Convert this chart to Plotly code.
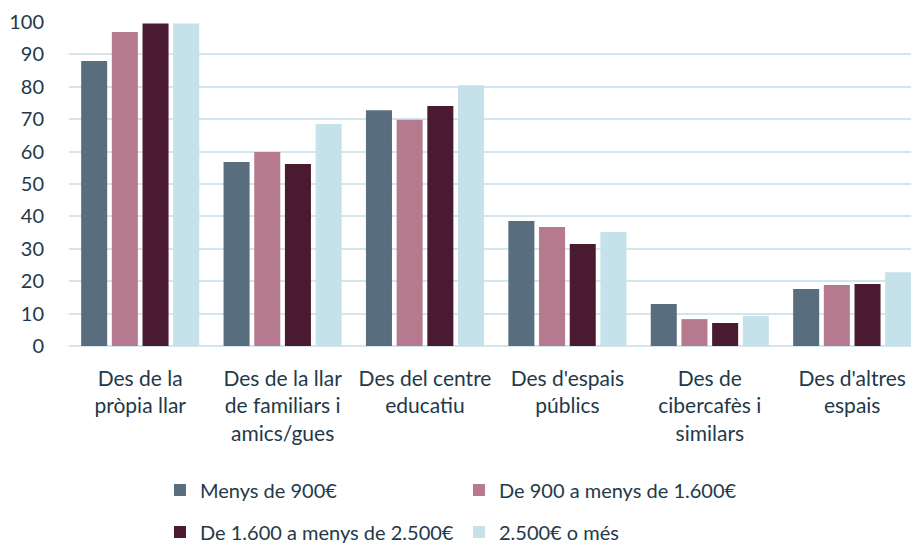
import plotly.graph_objects as go

categories = [
    "Des de la<br>pròpia llar",
    "Des de la llar<br>de familiars i<br>amics/gues",
    "Des del centre<br>educatiu",
    "Des d'espais<br>públics",
    "Des de<br>cibercafès i<br>similars",
    "Des d'altres<br>espais",
]

series_names = [
    "Menys de 900€",
    "De 900 a menys de 1.600€",
    "De 1.600 a menys de 2.500€",
    "2.500€ o més",
]

menys_900 = [88.0, 56.8, 72.8, 38.6, 13.0, 17.6]
de_900_1600 = [96.9, 59.9, 69.8, 36.7, 8.3, 18.8]
de_1600_2500 = [99.5, 56.2, 74.1, 31.5, 7.1, 19.1]
mes_2500 = [99.5, 68.5, 80.5, 35.2, 9.3, 22.8]

colors = ["#586d7d", "#b67a8e", "#4a1a30", "#c5e2ea"]
font_color = "#23394a"
grid_color = "#d3e6f0"

fig = go.Figure()
all_values = [menys_900, de_900_1600, de_1600_2500, mes_2500]
legends = ["legend", "legend", "legend2", "legend2"]
for name, vals, col, lg in zip(series_names, all_values, colors, legends):
    fig.add_trace(go.Bar(x=categories, y=vals, name=name, marker_color=col,
                         marker_line_width=0, legend=lg))

legend_style = dict(
    orientation="h", xanchor="left", yanchor="middle",
    xref="container", yref="container",
    font=dict(size=20, color=font_color), entrywidth=254,
    bgcolor="rgba(0,0,0,0)",
)

fig.update_layout(
    width=911, height=544,
    margin=dict(l=69, r=0, t=22, b=198),
    plot_bgcolor="white", paper_bgcolor="white",
    font=dict(family="Lato, Open Sans, sans-serif", size=20, color=font_color),
    barmode="group", bargap=0.138, bargroupgap=0.152,
    legend=dict(x=0.1756, y=0.0993, **legend_style),
    legend2=dict(x=0.1756, y=0.0221, **legend_style),
)
fig.update_yaxes(range=[0, 100], dtick=10, showgrid=True, gridcolor=grid_color,
                 gridwidth=2, zeroline=True, zerolinecolor=grid_color, zerolinewidth=2,
                 ticklabelstandoff=24, tickfont=dict(size=20), automargin=False)
fig.update_xaxes(range=[-0.5, 5.413], showgrid=False, ticks="", tickfont=dict(size=21),
                 ticklabelstandoff=18, automargin=False)

# drop the default 8px body margin so the figure fills the window
fig.write_html("out.html", config={"displayModeBar": False},
               post_script="document.body.style.margin='0';")
